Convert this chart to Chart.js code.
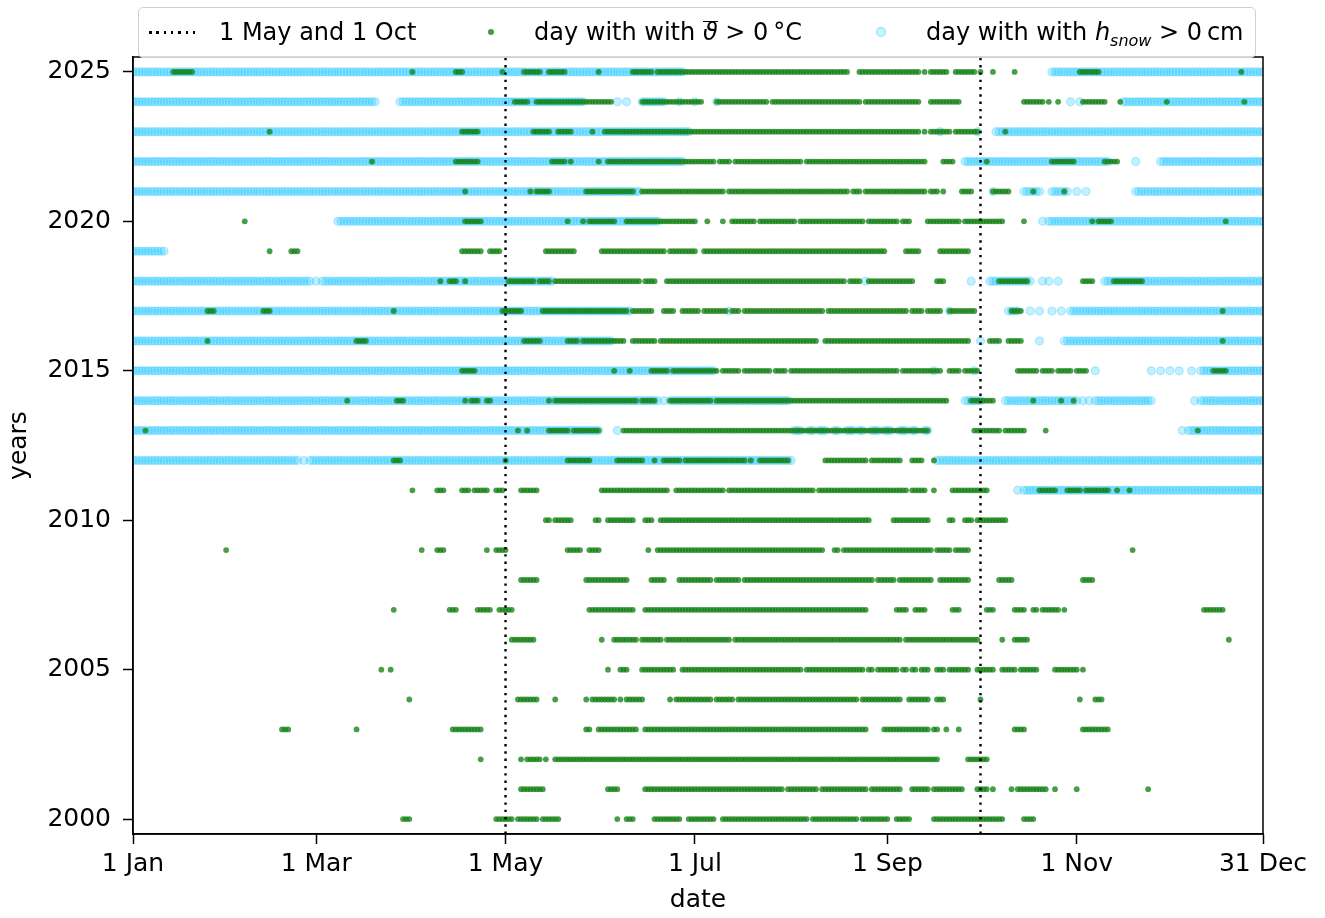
<!DOCTYPE html>
<html><head><meta charset="utf-8">
<script src="https://cdn.jsdelivr.net/npm/chart.js@4.4.1/dist/chart.umd.min.js"></script>
<style>
html,body{margin:0;padding:0;background:#fff;}
#wrap{position:relative;width:1325px;height:918px;font-family:"DejaVu Sans",sans-serif;overflow:hidden;}
#c{position:absolute;left:0;top:0;}
#legend{position:absolute;left:138px;top:7px;width:1116px;height:49px;border:1.5px solid #d0d0d0;border-radius:5px;background:rgba(255,255,255,0.8);}
.lg{position:absolute;top:0;height:49px;line-height:49px;font-size:24px;color:#000;white-space:nowrap;}
.dots{position:absolute;left:10px;top:23px;width:49px;height:2.5px;background-image:repeating-linear-gradient(90deg,#000 0 2.5px,transparent 2.5px 7.3px);}
.gdot{position:absolute;left:349px;top:21px;width:6px;height:6px;border-radius:50%;background:rgba(20,130,20,0.8);}
.bdot{position:absolute;left:737px;top:19px;width:8px;height:8px;border-radius:50%;background:rgba(0,191,255,0.2);border:1.4px solid rgba(0,191,255,0.35);}
.ov{display:inline-block;font-style:italic;border-top:1.5px solid #000;line-height:20px;padding-top:0px;}
</style></head>
<body>
<div id="wrap">
<canvas id="c" width="1325" height="918"></canvas>
<div id="legend">
  <div class="dots"></div>
  <div class="lg" style="left:80px">1 May and 1 Oct</div>
  <div class="gdot"></div>
  <div class="lg" style="left:395px">day with with <span class="ov">ϑ</span> &gt; 0&#8201;°C</div>
  <div class="bdot"></div>
  <div class="lg" style="left:787px">day with with <i>h</i><sub style="font-size:16px;font-style:italic;">snow</sub> &gt; 0&#8201;cm</div>
</div>
</div>
<script>
// ---- axis definitions ----
const dayTicks = [1, 60, 121, 182, 244, 305, 365];
const dayTickLabels = ['1 Jan', '1 Mar', '1 May', '1 Jul', '1 Sep', '1 Nov', '31 Dec'];
const yearTicks = [2000, 2005, 2010, 2015, 2020, 2025];
const markerDays = [121, 274]; // 1 May and 1 Oct
const yMin = 1999.5, yMax = 2025.5;
const years = [2000, 2001, 2002, 2003, 2004, 2005, 2006, 2007, 2008, 2009, 2010, 2011, 2012,
               2013, 2014, 2015, 2016, 2017, 2018, 2019, 2020, 2021, 2022, 2023, 2024, 2025];

// ---- days with mean temperature > 0 °C, as [first day, last day] runs (day of year) ----
const warm2000 = [[88,90],[118,123],[125,131],[133,138],[157,157],[160,162],[169,177],[180,188],[191,218],[220,234],[236,244],[247,251],[259,281],[288,291]];
const warm2001 = [[126,133],[154,157],[166,210],[212,221],[223,237],[239,248],[252,257],[259,268],[273,276],[278,278],[284,284],[286,295],[298,298],[305,305],[328,328]];
const warm2002 = [[113,113],[126,126],[128,132],[134,134],[137,260],[270,276]];
const warm2003 = [[49,51],[73,73],[104,113],[147,148],[151,163],[166,237],[243,257],[259,260],[263,263],[267,267],[285,288],[307,315]];
const warm2004 = [[90,90],[125,131],[137,137],[147,147],[149,156],[158,158],[160,165],[174,174],[176,187],[189,194],[196,234],[236,248],[251,257],[260,262],[274,274],[306,306],[311,313]];
const warm2005 = [[81,81],[84,84],[154,154],[158,160],[165,175],[178,216],[218,236],[238,239],[241,247],[249,250],[252,253],[255,257],[260,262],[264,270],[273,278],[281,285],[287,292],[298,305],[307,307]];
const warm2006 = [[123,130],[152,152],[156,163],[165,171],[173,193],[195,248],[250,273],[281,281],[285,289],[354,354]];
const warm2007 = [[85,85],[103,105],[112,116],[119,123],[148,162],[166,237],[247,250],[253,256],[265,267],[276,278],[285,288],[291,292],[294,299],[301,301],[346,352]];
const warm2008 = [[126,131],[147,160],[168,172],[177,187],[189,196],[198,239],[241,246],[248,258],[261,270],[280,284],[307,310]];
const warm2009 = [[31,31],[94,94],[99,101],[115,115],[118,121],[141,145],[148,151],[167,167],[170,223],[227,228],[230,258],[260,264],[266,270],[323,323]];
const warm2010 = [[134,135],[137,142],[150,151],[154,162],[166,168],[171,238],[246,257],[264,265],[269,271],[273,282]];
const warm2011 = [[91,91],[99,101],[107,109],[111,115],[118,120],[126,131],[152,173],[176,191],[193,220],[222,250],[252,256],[259,259],[265,276],[293,298],[302,306],[308,315],[318,318],[322,322]];
const warm2012 = [[85,87],[121,121],[141,148],[157,165],[169,169],[172,177],[179,198],[200,200],[203,212],[224,237],[239,248],[252,255],[259,259]];
const warm2013 = [[5,5],[125,125],[128,128],[135,141],[143,151],[159,257],[272,280],[282,288],[295,295],[344,344]];
const warm2014 = [[70,70],[86,88],[108,108],[110,112],[115,116],[135,135],[137,163],[165,169],[174,187],[189,263],[271,278],[291,291],[300,300],[304,304]];
const warm2015 = [[107,111],[156,156],[161,161],[168,173],[175,189],[191,196],[198,206],[208,211],[213,247],[249,261],[264,267],[269,273],[286,292],[294,297],[299,303],[305,308],[349,353]];
const warm2016 = [[25,25],[73,76],[127,132],[141,144],[146,159],[162,169],[171,221],[224,270],[277,280],[283,287],[352,352]];
const warm2017 = [[25,27],[43,45],[85,85],[120,126],[133,160],[162,168],[172,175],[178,183],[185,192],[194,196],[198,223],[225,250],[252,255],[257,261],[264,272],[284,287],[352,352]];
const warm2018 = [[100,100],[103,105],[108,108],[122,130],[132,135],[137,164],[166,169],[173,230],[232,235],[238,252],[260,262],[280,289],[307,310],[317,326]];
const warm2019 = [[45,45],[52,54],[107,113],[116,119],[134,143],[152,172],[174,182],[185,243],[250,254],[261,270]];
const warm2020 = [[37,37],[108,113],[141,141],[146,146],[148,156],[160,182],[186,186],[191,191],[194,201],[203,214],[216,236],[238,247],[249,251],[257,267],[269,281],[288,288],[310,310],[312,316],[353,353]];
const warm2021 = [[108,108],[129,129],[131,135],[147,162],[165,191],[193,231],[233,235],[237,256],[258,260],[262,262],[268,271],[278,283],[291,291],[301,301]];
const warm2022 = [[78,78],[105,112],[136,140],[142,142],[151,151],[154,188],[190,193],[195,216],[218,256],[262,265],[276,276],[297,304],[314,318]];
const warm2023 = [[45,45],[107,112],[130,135],[138,142],[149,149],[153,254],[256,256],[258,264],[266,273],[282,282]];
const warm2024 = [[124,128],[131,155],[165,184],[189,205],[207,235],[237,254],[258,267],[288,294],[296,296],[299,299],[307,314],[319,319],[334,334],[359,359]];
const warm2025 = [[14,20],[91,91],[105,107],[120,120],[127,132],[135,140],[151,151],[162,168],[170,231],[235,254],[256,256],[258,263],[266,272],[274,274],[278,278],[285,285],[306,312],[358,358]];

// ---- days with snow depth > 0 cm, as [first day, last day] runs ----
const snow2011 = [[286,286],[288,365]];
const snow2012 = [[1,54],[56,56],[58,213],[260,365]];
const snow2013 = [[1,151],[157,157],[214,216],[219,220],[222,224],[227,228],[231,233],[235,236],[239,241],[243,245],[248,250],[252,253],[256,257],[339,339],[341,365]];
const snow2014 = [[1,170],[172,172],[174,212],[269,274],[282,305],[307,307],[309,309],[311,329],[343,343],[345,365]];
const snow2015 = [[1,188],[259,259],[272,272],[311,311],[329,329],[332,332],[335,335],[338,338],[342,342],[345,365]];
const snow2016 = [[1,155],[274,274],[293,293],[301,365]];
const snow2017 = [[1,161],[193,193],[264,264],[283,286],[290,290],[293,293],[297,297],[300,300],[303,365]];
const snow2018 = [[1,58],[60,60],[62,136],[237,237],[271,271],[277,290],[294,294],[296,296],[299,299],[314,365]];
const snow2019 = [[1,11]];
const snow2020 = [[67,170],[294,294],[296,365]];
const snow2021 = [[1,164],[278,278],[288,293],[297,302],[305,305],[308,308],[324,365]];
const snow2022 = [[1,178],[269,315],[324,324],[332,365]];
const snow2023 = [[1,180],[261,261],[273,273],[279,365]];
const snow2024 = [[1,79],[87,146],[157,157],[160,160],[165,172],[177,177],[182,182],[189,189],[303,303],[306,306],[320,365]];
const snow2025 = [[1,178],[297,365]];

const warmRuns = [warm2000, warm2001, warm2002, warm2003, warm2004, warm2005, warm2006, warm2007, warm2008,
  warm2009, warm2010, warm2011, warm2012, warm2013, warm2014, warm2015, warm2016, warm2017, warm2018,
  warm2019, warm2020, warm2021, warm2022, warm2023, warm2024, warm2025];
const snowRuns = [[], [], [], [], [], [], [], [], [], [], [], snow2011, snow2012, snow2013, snow2014, snow2015,
  snow2016, snow2017, snow2018, snow2019, snow2020, snow2021, snow2022, snow2023, snow2024, snow2025];

function runsToPoints(runsList) {
  const pts = [];
  runsList.forEach((runs, i) => {
    for (const [a, b] of runs) for (let d = a; d <= b; d++) pts.push({x: d, y: years[i]});
  });
  return pts;
}

Chart.defaults.font.family = '"DejaVu Sans", sans-serif';
Chart.defaults.color = '#000';

const framePlugin = {
  id: 'frame',
  afterDraw(chart) {
    const {ctx, chartArea: a} = chart;
    ctx.save();
    ctx.strokeStyle = '#000';
    ctx.lineWidth = 1.5;
    ctx.strokeRect(a.left, a.top, a.right - a.left, a.bottom - a.top);
    ctx.restore();
  }
};

const lineSets = markerDays.map((d, i) => ({
  type: 'line',
  label: i === 0 ? '1 May and 1 Oct' : '',
  data: [{x: d, y: yMin}, {x: d, y: yMax}],
  borderColor: '#000',
  borderWidth: 2.4,
  borderDash: [2.4, 4.9],
  pointRadius: 0,
  fill: false,
  order: 0
}));

new Chart(document.getElementById('c'), {
  type: 'scatter',
  data: {
    datasets: [
      ...lineSets,
      {
        label: 'day with with mean temperature > 0 °C',
        data: runsToPoints(warmRuns),
        backgroundColor: 'rgba(20,130,20,0.78)',
        borderColor: 'rgba(20,130,20,0)',
        borderWidth: 0,
        pointRadius: 2.9,
        order: 1
      },
      {
        label: 'day with with snow depth > 0 cm',
        data: runsToPoints(snowRuns),
        backgroundColor: 'rgba(0,191,255,0.24)',
        borderColor: 'rgba(0,191,255,0.26)',
        borderWidth: 1.2,
        pointRadius: 4.0,
        order: 2
      }
    ]
  },
  options: {
    responsive: false,
    animation: false,
    devicePixelRatio: 1,
    events: [],
    layout: {padding: {left: 0, top: 57, right: 62, bottom: 0}},
    plugins: {legend: {display: false}, tooltip: {enabled: false}},
    scales: {
      x: {
        type: 'linear', min: 1, max: 365,
        afterBuildTicks: s => { s.ticks = dayTicks.map(v => ({value: v})); },
        afterFit: s => { s.height = 84; },
        ticks: {
          autoSkip: false, maxRotation: 0, padding: 5,
          font: {size: 25},
          callback: v => dayTickLabels[dayTicks.indexOf(v)]
        },
        grid: {drawOnChartArea: false, drawTicks: true, tickLength: 10, tickWidth: 1.5, tickColor: '#000'},
        border: {display: true, color: '#000', width: 1.5},
        title: {display: true, text: 'date', font: {size: 25}, padding: {top: 0, bottom: 3}}
      },
      y: {
        type: 'linear', min: yMin, max: yMax,
        afterBuildTicks: s => { s.ticks = yearTicks.map(v => ({value: v})); },
        afterFit: s => { s.width = 133; },
        ticks: {
          autoSkip: false, padding: 12,
          font: {size: 25},
          callback: v => String(v)
        },
        grid: {drawOnChartArea: false, drawTicks: true, tickLength: 10, tickWidth: 1.5, tickColor: '#000'},
        border: {display: true, color: '#000', width: 1.5},
        title: {display: true, text: 'years', font: {size: 25}, padding: {top: 4, bottom: 0}}
      }
    }
  },
  plugins: [framePlugin]
});
</script>
</body></html>
